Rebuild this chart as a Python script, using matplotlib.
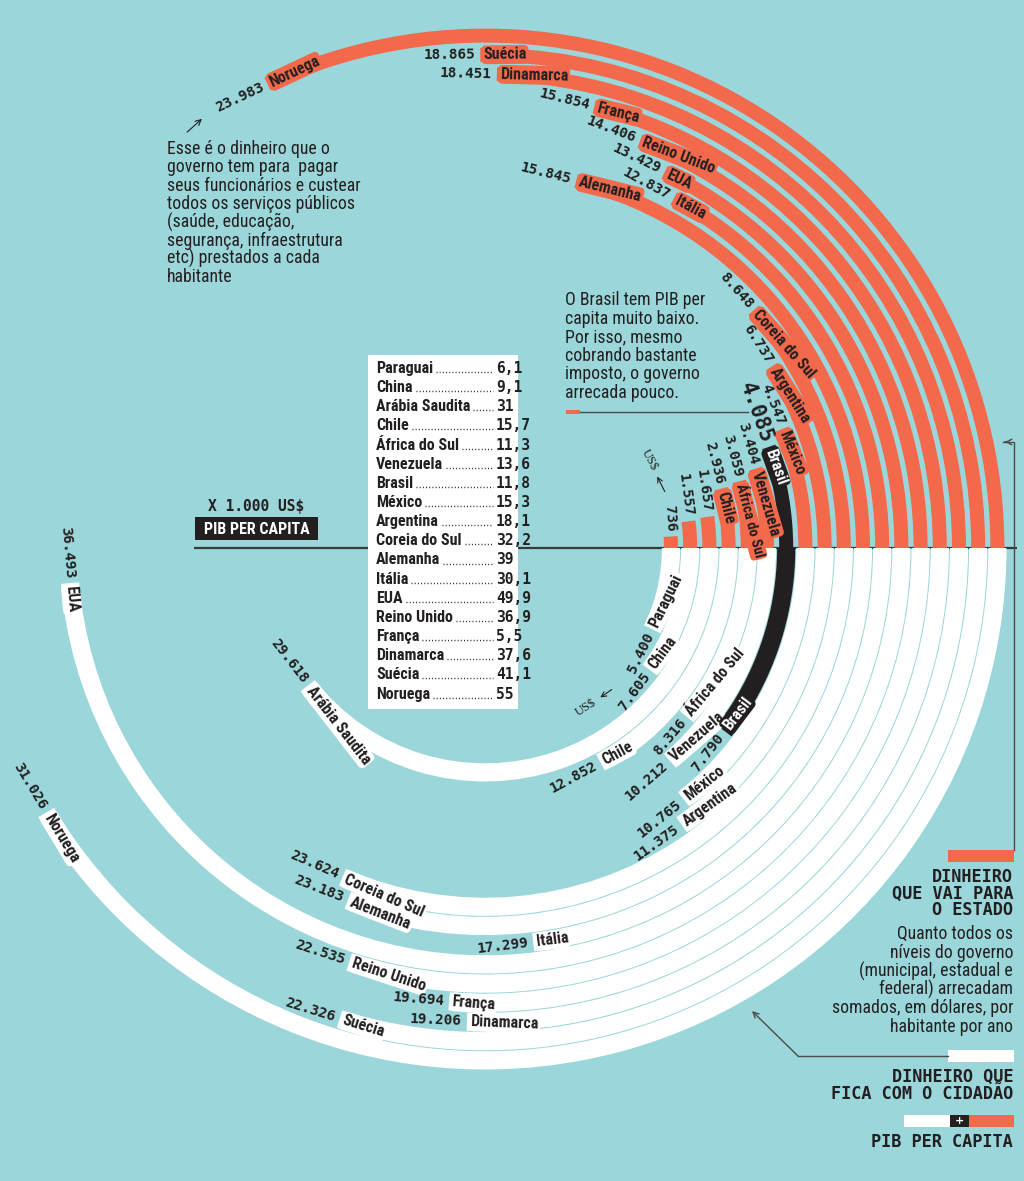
import numpy as np
import matplotlib
matplotlib.use("Agg")
import matplotlib.pyplot as plt
from matplotlib.patches import Wedge, Rectangle
from matplotlib import font_manager as fm

# ---------------- data ----------------
countries = ['Paraguai', 'China', 'Arábia Saudita', 'Chile', 'África do Sul', 'Venezuela',
             'Brasil', 'México', 'Argentina', 'Coreia do Sul', 'Alemanha', 'Itália', 'EUA',
             'Reino Unido', 'França', 'Dinamarca', 'Suécia', 'Noruega']
# dinheiro que vai para o estado (US$ mil por habitante)
estado = [0.736, 1.557, 1.657, 2.936, 3.059, 3.404, 4.085, 4.547, 6.737, 8.648,
          15.845, 12.837, 13.429, 14.406, 15.854, 18.451, 18.865, 23.983]
# dinheiro que fica com o cidadão (US$ mil por habitante)
cidadao = [5.400, 7.605, 29.618, 12.852, 8.316, 10.212, 7.790, 10.765, 11.375, 23.624,
           23.183, 17.299, 36.493, 22.535, 19.694, 19.206, 22.326, 31.026]
# PIB per capita (x 1.000 US$), as printed in the table
pib_labels = ['6,1', '9,1', '31', '15,7', '11,3', '13,6', '11,8', '15,3', '18,1', '32,2',
              '39', '30,1', '49,9', '36,9', '5,5', '37,6', '41,1', '55']
upper_name_shown = [False, False, False] + [True] * 15

# ---------------- style ----------------
BG = '#9ad6da'
ORANGE = '#f2694b'
DARK = '#231f20'
WHITE = '#ffffff'

names = {f.name for f in fm.fontManager.ttflist}
def pick(*cands):
    for c in cands:
        if c in names:
            return c
    return 'DejaVu Sans'
NARROW = pick('Liberation Sans Narrow', 'Roboto Condensed', 'Liberation Sans')
MONO = pick('DejaVu Sans Mono')
SERIF = pick('Liberation Serif', 'DejaVu Serif')

W, H = 1024, 1181
fig = plt.figure(figsize=(W / 100, H / 100), dpi=100)
fig.patch.set_facecolor(BG)
ax = fig.add_axes([0, 0, 1, 1])
ax.set_xlim(0, W)
ax.set_ylim(0, H)
ax.axis('off')
ax.set_facecolor(BG)

def Y(y):
    return H - y

CX, CY = 485, Y(548)
R0, PITCH = 186, 19.2
DEG = 4.8  # degrees per 1.000 US$

def fmt(v):
    if v < 1:
        return str(int(round(v * 1000)))
    return f"{v:.3f}"

# horizontal axis line
ax.plot([194, 1017], [CY, CY], color='#3a3a3a', lw=1.6, zorder=1, solid_capstyle='butt')

def place_label(r, ang, upper, name, num, box_fc, txt_c, num_size=10.4, show_name=True,
                name_size=11.5):
    a = np.radians(ang) if upper else -np.radians(ang)
    P = np.array([CX + r * np.cos(a), CY + r * np.sin(a)])
    if upper:
        u = np.array([np.sin(a), -np.cos(a)])
        rot = np.degrees(a) - 90
    else:
        u = np.array([-np.sin(a), np.cos(a)])
        rot = np.degrees(a) + 90
    if show_name:
        q = P + u * 3
        ax.text(q[0], q[1], name, rotation=rot, rotation_mode='anchor', ha='left',
                va='center', fontsize=name_size, fontweight='bold', family=NARROW, color=txt_c,
                bbox=dict(boxstyle='round,pad=0.12,rounding_size=0.3', fc=box_fc, ec='none'),
                zorder=6)
    q = P - u * 5
    ax.text(q[0], q[1], num, rotation=rot, rotation_mode='anchor', ha='right',
            va='center', fontsize=num_size, fontweight='bold', family=MONO, color=DARK,
            zorder=6)
    return P, u

for i, (c, e, w) in enumerate(zip(countries, estado, cidadao)):
    r = R0 + i * PITCH
    col_up = DARK if c == 'Brasil' else ORANGE
    col_dn = DARK if c == 'Brasil' else WHITE
    th, ph = e * DEG, w * DEG
    ax.add_patch(Wedge((CX, CY), r + 7, 0, th, width=14, facecolor=col_up,
                       edgecolor='none', zorder=2))
    ax.add_patch(Wedge((CX, CY), r + 9.1, -ph, 0, width=18.2, facecolor=col_dn,
                       edgecolor='none', zorder=2))
    box_up = DARK if c == 'Brasil' else ORANGE
    box_dn = DARK if c == 'Brasil' else WHITE
    tc = WHITE if c == 'Brasil' else DARK
    ns = 15 if c == 'Brasil' else 10.4
    up_size = 10.5 if c == 'África do Sul' else 11.5
    place_label(r, th, True, c, fmt(e), box_up, tc, num_size=ns,
                show_name=upper_name_shown[i], name_size=up_size)
    place_label(r, ph, False, c, fmt(w), box_dn, tc)

# US$ markers
ax.text(650, Y(460), 'US$', rotation=-62, family=SERIF, fontsize=9, color=DARK,
        ha='center', va='center', zorder=6)
ax.annotate('', xy=(656, Y(474)), xytext=(666, Y(494)),
            arrowprops=dict(arrowstyle='->', color=DARK, lw=0.8, mutation_scale=9), zorder=6)
ax.text(586, Y(708), 'US$', rotation=33, family=SERIF, fontsize=9, color=DARK,
        ha='center', va='center', zorder=6)
ax.annotate('', xy=(598, Y(699)), xytext=(614, Y(688)),
            arrowprops=dict(arrowstyle='->', color=DARK, lw=0.8, mutation_scale=9), zorder=6)

# ---------------- left title ----------------
ax.text(256, Y(506), 'X 1.000 US$', family=MONO, fontweight='bold', fontsize=10.5,
        color=DARK, ha='center', va='center')
ax.add_patch(Rectangle((195, Y(540)), 123, 23, facecolor=DARK, edgecolor='none', zorder=3))
ax.text(256.5, Y(529), 'PIB PER CAPITA', family=NARROW, fontweight='bold', fontsize=11.5,
        color=WHITE, ha='center', va='center', zorder=4)

# ---------------- table ----------------
ax.add_patch(Rectangle((368, Y(709)), 150, 354, facecolor=WHITE, edgecolor='none', zorder=3))
renderer = fig.canvas.get_renderer()
for k, (c, v) in enumerate(zip(countries, pib_labels)):
    yb = Y(368 + k * 19.15) - 5
    t = ax.text(376, yb, c, family=NARROW, fontweight='bold', fontsize=11.5, color=DARK,
                ha='left', va='baseline', zorder=4)
    ax.text(496, yb, v, family=MONO, fontweight='bold', fontsize=10.5, color=DARK,
            ha='left', va='baseline', zorder=4)
    bb = t.get_window_extent(renderer)
    ax.plot([bb.x1 + 3, 493], [yb + 1, yb + 1], ls=(0, (0.7, 1.6)), lw=1.0, color=DARK,
            zorder=4)

# ---------------- annotations ----------------
BODY = 12.8
left_lines = ['Esse é o dinheiro que o', 'governo tem para  pagar',
              'seus funcionários e custear', 'todos os serviços públicos',
              '(saúde, educação,', 'segurança, infraestrutura',
              'etc) prestados a cada', 'habitante']
for k, s in enumerate(left_lines):
    ax.text(167, Y(149 + k * 18.3), s, family=NARROW, fontsize=BODY, color=DARK,
            ha='left', va='center')
ax.annotate('', xy=(204, Y(117)), xytext=(185, Y(134)),
            arrowprops=dict(arrowstyle='->', color=DARK, lw=0.8, mutation_scale=10))

mid_lines = ['O Brasil tem PIB per', 'capita muito baixo.', 'Por isso, mesmo',
             'cobrando bastante', 'imposto, o governo', 'arrecada pouco.']
for k, s in enumerate(mid_lines):
    ax.text(565, Y(300 + k * 18.6), s, family=NARROW, fontsize=BODY, color=DARK,
            ha='left', va='center')
ax.plot([580, 748], [Y(412), Y(412)], color='#4a4a4a', lw=1.0, zorder=1)
ax.add_patch(Rectangle((566, Y(414)), 14, 4, facecolor=ORANGE, edgecolor='none', zorder=3))

# ---------------- right legend ----------------
ax.plot([1003, 1013.5, 1013.5], [Y(442), Y(442), Y(850)], color='#4a4a4a', lw=1.0)
ax.annotate('', xy=(1002, Y(442)), xytext=(1008, Y(442)),
            arrowprops=dict(arrowstyle='->', color='#4a4a4a', lw=1.0, mutation_scale=10))
ax.add_patch(Rectangle((948, Y(862)), 66, 12, facecolor=ORANGE, edgecolor='none'))
CAPS = 12.2
for k, s in enumerate(['DINHEIRO', 'QUE VAI PARA', 'O ESTADO']):
    ax.text(1013, Y(877 + k * 16.5), s, family=MONO, fontweight='bold', fontsize=CAPS,
            color=DARK, ha='right', va='center')
leg_lines = ['Quanto todos os', 'níveis do governo', '(municipal, estadual e',
             'federal) arrecadam', 'somados, em dólares, por', 'habitante por ano']
for k, s in enumerate(leg_lines):
    ax.text(1013, Y(934 + k * 18.6), s, family=NARROW, fontsize=BODY, color=DARK,
            ha='right', va='center')

ax.plot([948, 798], [Y(1056), Y(1056)], color='#4a4a4a', lw=1.0)
ax.annotate('', xy=(752, Y(1011)), xytext=(798, Y(1056)),
            arrowprops=dict(arrowstyle='->', color='#4a4a4a', lw=1.0, mutation_scale=10,
                            shrinkA=0, shrinkB=0))
ax.add_patch(Rectangle((948, Y(1062)), 66, 12, facecolor=WHITE, edgecolor='none'))
for k, s in enumerate(['DINHEIRO QUE', 'FICA COM O CIDADÃO']):
    ax.text(1013, Y(1077 + k * 17), s, family=MONO, fontweight='bold', fontsize=CAPS,
            color=DARK, ha='right', va='center')

ax.add_patch(Rectangle((904, Y(1127)), 46, 12, facecolor=WHITE, edgecolor='none'))
ax.add_patch(Rectangle((950, Y(1127)), 19, 12, facecolor=DARK, edgecolor='none'))
ax.add_patch(Rectangle((969, Y(1127)), 45, 12, facecolor=ORANGE, edgecolor='none'))
ax.text(959.5, Y(1121), '+', family='DejaVu Sans', fontweight='bold', fontsize=8,
        color=WHITE, ha='center', va='center')
ax.text(1013, Y(1142), 'PIB PER CAPITA', family=MONO, fontweight='bold', fontsize=CAPS,
        color=DARK, ha='right', va='center')

fig.savefig('out.png', dpi=100, facecolor=BG)
